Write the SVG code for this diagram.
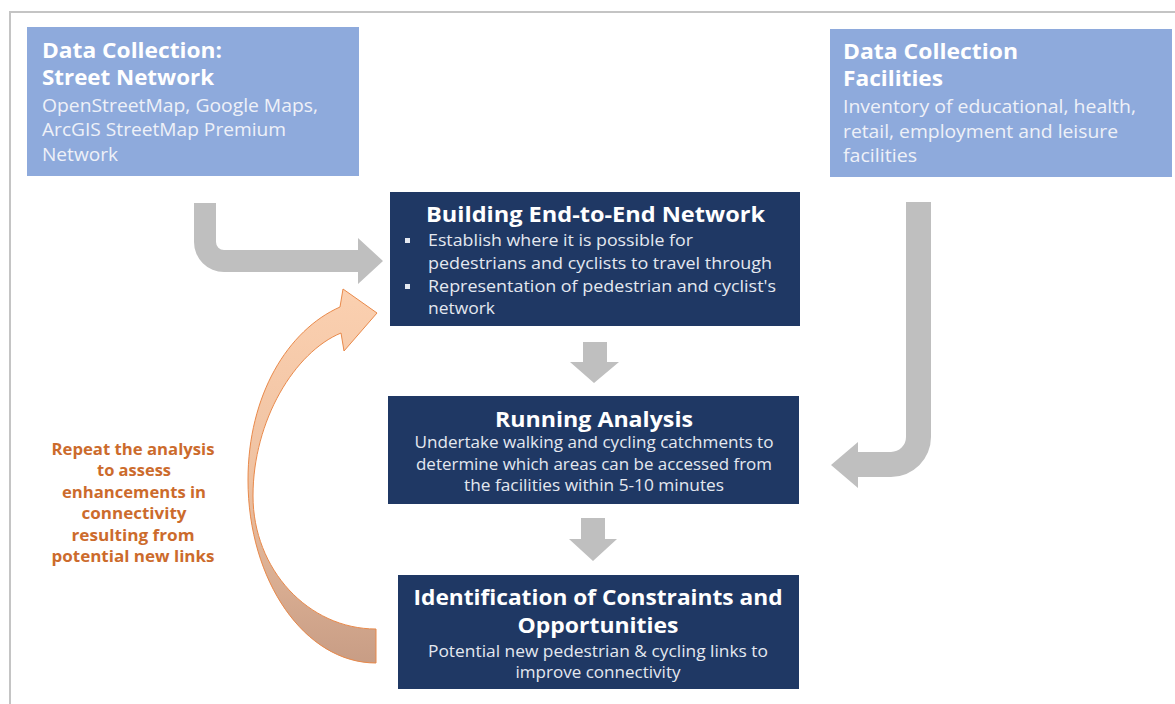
<svg xmlns="http://www.w3.org/2000/svg" width="1175" height="704" viewBox="0 0 1175 704">
  <defs>
    <style>
      .frame { fill: none; stroke: #c4c4c4; stroke-width: 2; }
      .src { fill: #8eaadc; }
      .step { fill: #1f3864; }
      .flow { fill: #bfbfbf; }
      .ttl { font-family: "Open Sans", "Noto Sans", "DejaVu Sans", sans-serif; font-weight: bold; fill: #ffffff; }
      .src-ttl { font-size: 20.5px; }
      .src-txt { font-family: "Open Sans", "Noto Sans", "DejaVu Sans", sans-serif; font-size: 17.5px; fill: #eef1f8; }
      .step-ttl { font-size: 20.5px; }
      .step-txt { font-family: "Open Sans", "Noto Sans", "DejaVu Sans", sans-serif; font-size: 15.5px; fill: #e4e8f0; }
      .note { font-family: "Open Sans", "Noto Sans", "DejaVu Sans", sans-serif; font-size: 15.5px; font-weight: bold; fill: #cc6b2c; }
      .bullet { fill: #e4e8f0; }
    </style>
    <linearGradient id="loopFill" gradientUnits="userSpaceOnUse" x1="0" y1="290" x2="0" y2="663">
      <stop offset="0" stop-color="#fbd0b0"/>
      <stop offset="0.5" stop-color="#efc2a2"/>
      <stop offset="1" stop-color="#c89d85"/>
    </linearGradient>
  </defs>

  <rect width="1175" height="704" fill="#ffffff"/>
  <!-- outer frame (open to the right and bottom) -->
  <path class="frame" d="M 10 704 L 10 12 L 1175 12"/>

  <!-- connectors -->
  <g id="connectors">
    <!-- street network -> building network -->
    <path class="flow" d="M 194 203 L 216 203 L 216 242 A 8 8 0 0 0 224 250 L 358 250 L 358 238 L 383 261 L 358 284 L 358 272 L 224 272 A 30 30 0 0 1 194 242 Z"/>
    <!-- facilities -> running analysis -->
    <path class="flow" d="M 906 202 L 931 202 L 931 437 A 40 40 0 0 1 891 477 L 858 477 L 858 488 L 831 465 L 858 442 L 858 452 L 891 452 A 15 15 0 0 0 906 437 Z"/>
    <!-- building network -> running analysis -->
    <path class="flow" d="M 583 342 L 607 342 L 607 362 L 619 362 L 594 383 L 570 362 L 583 362 Z"/>
    <!-- running analysis -> constraints -->
    <path class="flow" d="M 581 518 L 605 518 L 605 539 L 617 539 L 593 561 L 569 539 L 581 539 Z"/>
    <!-- feedback loop back to the network -->
    <path fill="url(#loopFill)" stroke="#e9894a" stroke-width="1" d="M 376 663 C 305 663 248 581 248 480 C 248 395 288 330 340 307 L 343 289 L 377 313 L 344 351 L 341 333 C 295 352 253 420 253 496 C 253 569 308 629 376 629 Z"/>
  </g>

  <g id="street-network">
    <rect class="src" x="27" y="27" width="332" height="149"/>
    <text class="ttl src-ttl" x="42" y="58" textLength="180" lengthAdjust="spacingAndGlyphs">Data Collection:</text>
    <text class="ttl src-ttl" x="42" y="85" textLength="172" lengthAdjust="spacingAndGlyphs">Street Network</text>
    <text class="src-txt" x="42" y="112" textLength="276" lengthAdjust="spacingAndGlyphs">OpenStreetMap, Google Maps,</text>
    <text class="src-txt" x="42" y="136" textLength="244" lengthAdjust="spacingAndGlyphs">ArcGIS StreetMap Premium</text>
    <text class="src-txt" x="42" y="161" textLength="76" lengthAdjust="spacingAndGlyphs">Network</text>
  </g>

  <g id="facilities">
    <rect class="src" x="830" y="29" width="342" height="148"/>
    <text class="ttl src-ttl" x="843" y="59" textLength="175" lengthAdjust="spacingAndGlyphs">Data Collection</text>
    <text class="ttl src-ttl" x="843" y="86" textLength="100" lengthAdjust="spacingAndGlyphs">Facilities</text>
    <text class="src-txt" x="843" y="113" textLength="293" lengthAdjust="spacingAndGlyphs">Inventory of educational, health,</text>
    <text class="src-txt" x="843" y="138" textLength="275" lengthAdjust="spacingAndGlyphs">retail, employment and leisure</text>
    <text class="src-txt" x="843" y="162" textLength="74" lengthAdjust="spacingAndGlyphs">facilities</text>
  </g>

  <g id="building-network">
    <rect class="step" x="390" y="192" width="410" height="134"/>
    <text class="ttl step-ttl" x="426" y="222" textLength="339" lengthAdjust="spacingAndGlyphs">Building End-to-End Network</text>
    <rect class="bullet" x="405" y="238" width="5" height="5"/>
    <text class="step-txt" x="428" y="246" textLength="265" lengthAdjust="spacingAndGlyphs">Establish where it is possible for</text>
    <text class="step-txt" x="428" y="269" textLength="344" lengthAdjust="spacingAndGlyphs">pedestrians and cyclists to travel through</text>
    <rect class="bullet" x="405" y="284" width="5" height="5"/>
    <text class="step-txt" x="428" y="292" textLength="348" lengthAdjust="spacingAndGlyphs">Representation of pedestrian and cyclist's</text>
    <text class="step-txt" x="428" y="314" textLength="67" lengthAdjust="spacingAndGlyphs">network</text>
  </g>

  <g id="running-analysis">
    <rect class="step" x="388" y="396" width="411" height="108"/>
    <text class="ttl step-ttl" x="594" y="427" text-anchor="middle" textLength="198" lengthAdjust="spacingAndGlyphs">Running Analysis</text>
    <text class="step-txt" x="594" y="448" text-anchor="middle" textLength="359" lengthAdjust="spacingAndGlyphs">Undertake walking and cycling catchments to</text>
    <text class="step-txt" x="594" y="470" text-anchor="middle" textLength="356" lengthAdjust="spacingAndGlyphs">determine which areas can be accessed from</text>
    <text class="step-txt" x="594" y="491" text-anchor="middle" textLength="260" lengthAdjust="spacingAndGlyphs">the facilities within 5-10 minutes</text>
  </g>

  <g id="constraints-opportunities">
    <rect class="step" x="398" y="575" width="401" height="114"/>
    <text class="ttl step-ttl" x="598" y="605" text-anchor="middle" textLength="369" lengthAdjust="spacingAndGlyphs">Identification of Constraints and</text>
    <text class="ttl step-ttl" x="598" y="633" text-anchor="middle" textLength="161" lengthAdjust="spacingAndGlyphs">Opportunities</text>
    <text class="step-txt" x="598" y="657" text-anchor="middle" textLength="340" lengthAdjust="spacingAndGlyphs">Potential new pedestrian &amp; cycling links to</text>
    <text class="step-txt" x="598" y="678" text-anchor="middle" textLength="165" lengthAdjust="spacingAndGlyphs">improve connectivity</text>
  </g>

  <g id="repeat-note">
    <text class="note" x="133" y="455" text-anchor="middle" textLength="163" lengthAdjust="spacingAndGlyphs">Repeat the analysis</text>
    <text class="note" x="134" y="476" text-anchor="middle" textLength="74" lengthAdjust="spacingAndGlyphs">to assess</text>
    <text class="note" x="134" y="498" text-anchor="middle" textLength="144" lengthAdjust="spacingAndGlyphs">enhancements in</text>
    <text class="note" x="134" y="519" text-anchor="middle" textLength="105" lengthAdjust="spacingAndGlyphs">connectivity</text>
    <text class="note" x="133" y="541" text-anchor="middle" textLength="123" lengthAdjust="spacingAndGlyphs">resulting from</text>
    <text class="note" x="133" y="562" text-anchor="middle" textLength="163" lengthAdjust="spacingAndGlyphs">potential new links</text>
  </g>
</svg>
